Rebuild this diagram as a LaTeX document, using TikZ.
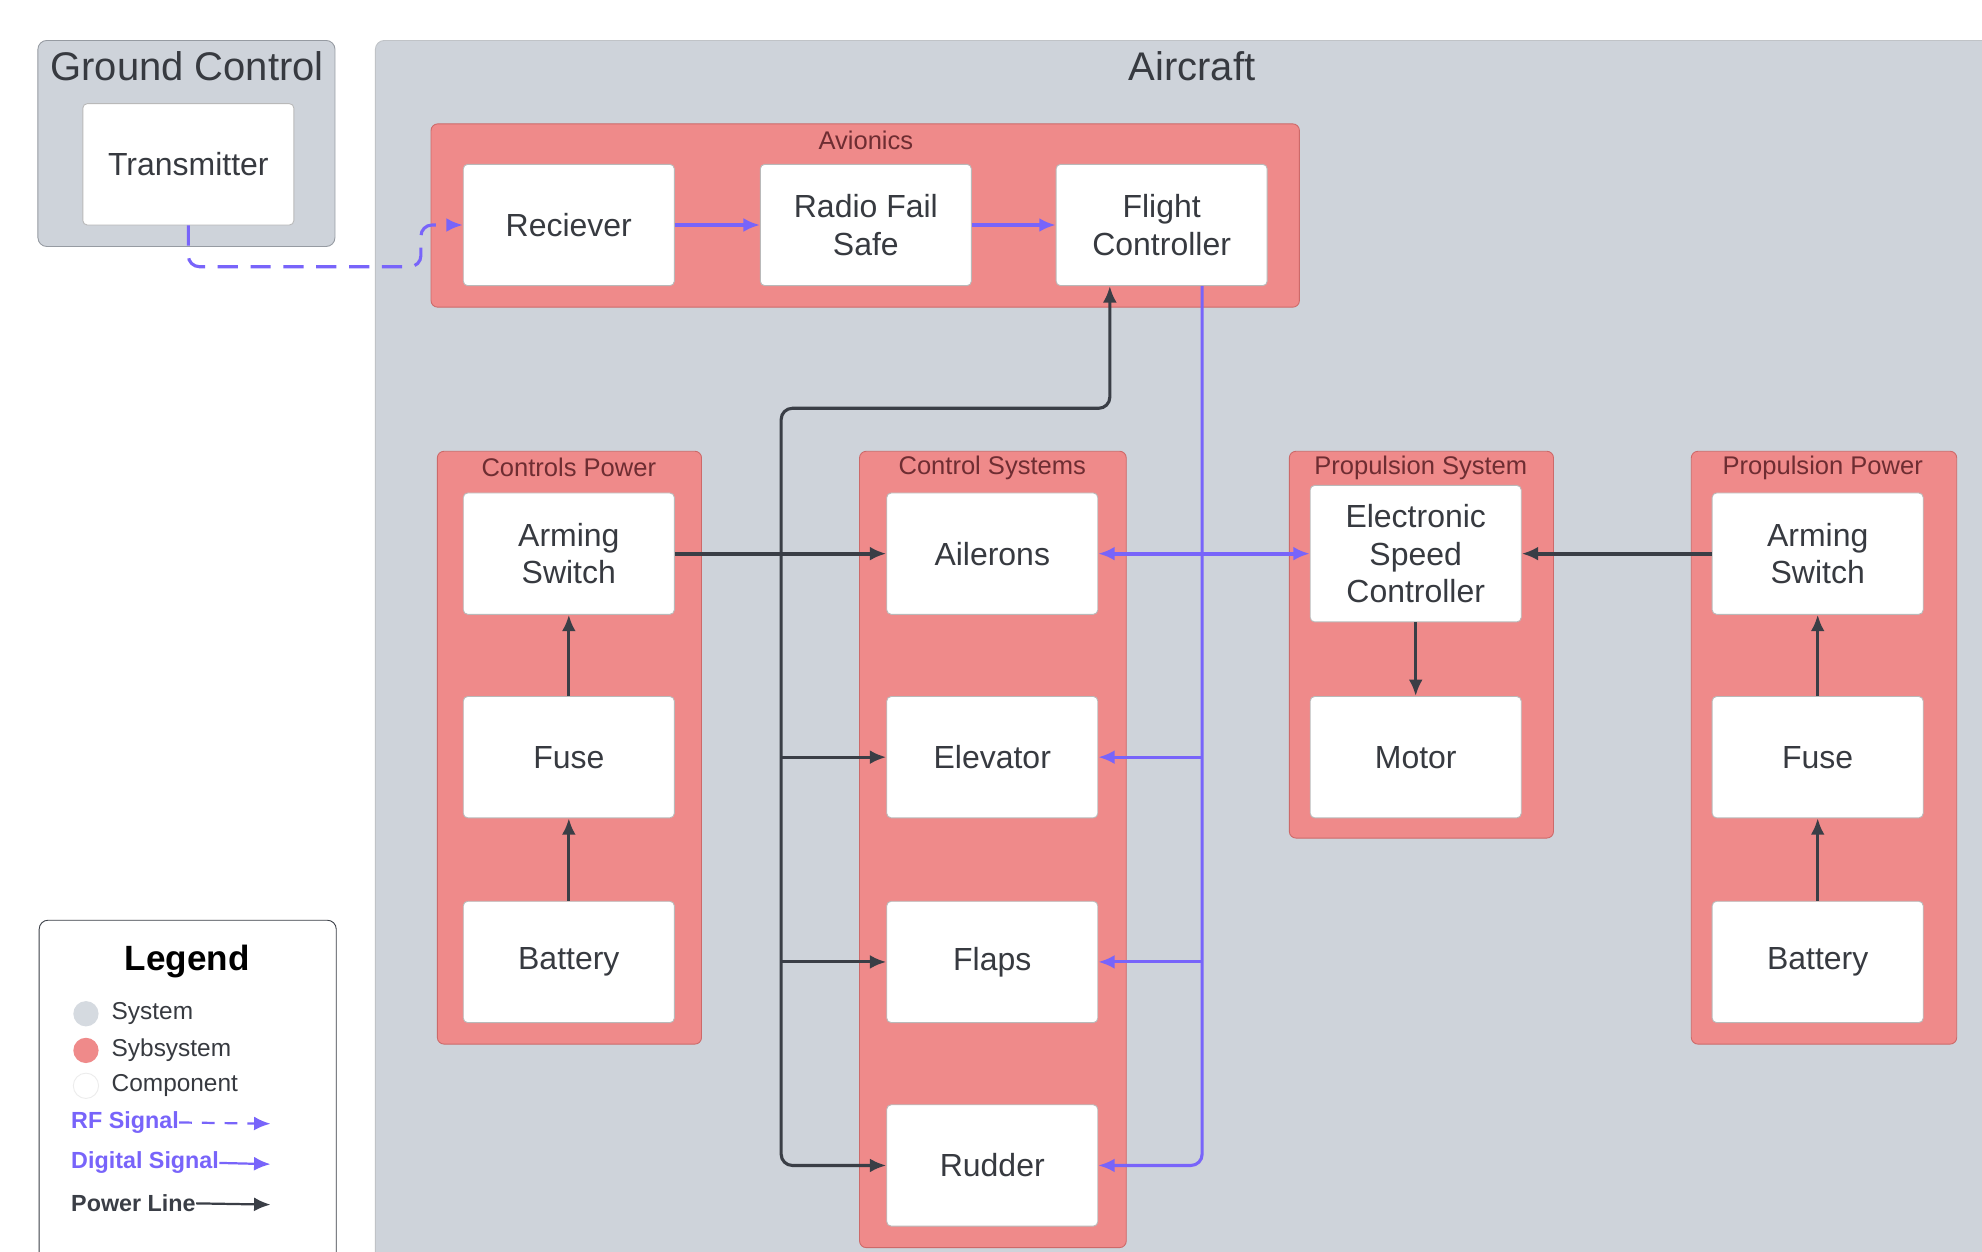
\documentclass[tikz,border=0pt]{standalone}
\usepackage{fontspec}
\setmainfont{Liberation Sans}
\usetikzlibrary{arrows.meta,fit,calc}
\definecolor{sysgray}{RGB}{206,211,218}
\definecolor{sysline}{RGB}{150,155,162}
\definecolor{subred}{RGB}{239,138,138}
\definecolor{subline}{RGB}{205,105,105}
\definecolor{subtext}{RGB}{110,45,50}
\definecolor{compline}{RGB}{185,185,185}
\definecolor{ink}{RGB}{55,58,64}
\definecolor{sigpurple}{RGB}{120,100,250}
\definecolor{powerc}{RGB}{58,62,70}
\tikzset{
  sys/.style={draw=sysline, fill=sysgray, rounded corners=4pt, inner sep=0pt},
  subsys/.style={draw=subline, fill=subred, rounded corners=3pt, inner sep=0pt},
  comp/.style={draw=compline, fill=white, rounded corners=2pt, minimum width=3.34cm, minimum height=1.92cm, align=center, text=ink, font=\fontsize{14.4}{17}\selectfont},
  systitle/.style={text=ink, font=\fontsize{18}{21}\selectfont},
  grplbl/.style={text=subtext, font=\fontsize{11.5}{13}\selectfont},
  power/.style={-{Latex[length=2.6mm,width=2.2mm]}, line width=1.4pt, draw=powerc},
  digital/.style={-{Latex[length=2.6mm,width=2.2mm]}, line width=1.4pt, draw=sigpurple},
  rf/.style={digital, dash pattern=on 3.2mm off 2mm},
  keydot/.style={circle, minimum size=0.4cm, inner sep=0pt},
  legitem/.style={anchor=west, inner sep=0pt, text=ink, font=\fontsize{11}{13}\selectfont},
  sigitem/.style={anchor=west, inner sep=0pt, font=\bfseries\fontsize{10.5}{12}\selectfont}
}

\begin{document}
\begin{tikzpicture}[x=0.02cm, y=-0.02cm]
  \useasboundingbox (0,0) rectangle (1568,990);
  \clip (0,0) rectangle (1568,990);
  \fill[white] (0,0) rectangle (1568,990);

  % ground side
  \node[sys, fit={(30,32) (265,195)}] (ground) {};
  \node[systitle] (groundlbl) at (148,52) {Ground Control};
  \node[comp] (tx) at (149,130) {Transmitter};

  % aircraft side
  \node[sys, draw=sysline!60, fit={(297,32) (1600,1020)}] (aircraft) {};
  \node[systitle] (aircraftlbl) at (943,52) {Aircraft};

  \node[subsys, fit={(341,98) (1028,243)}] (avionics) {};
  \node[grplbl] (avionicslbl) at (685,111) {Avionics};
  \node[comp] (rx) at (450,178) {Reciever};
  \node[comp] (rfs) at (685,178) {Radio Fail\\Safe};
  \node[comp] (fc) at (919,178) {Flight\\Controller};

  \node[subsys, fit={(346,357) (555,826)}] (ctrlpwr) {};
  \node[grplbl] (ctrlpwrlbl) at (450,370) {Controls Power};
  \node[comp] (armL) at (450,438) {Arming\\Switch};
  \node[comp] (fuseL) at (450,599) {Fuse};
  \node[comp] (batL) at (450,761) {Battery};

  \node[subsys, fit={(680,357) (891,987)}] (ctrlsys) {};
  \node[grplbl] (ctrlsyslbl) at (785,370) {Control Systems};
  \node[comp] (ail) at (785,438) {Ailerons};
  \node[comp] (elev) at (785,599) {Elevator};
  \node[comp] (flap) at (785,761) {Flaps};
  \node[comp] (rud) at (785,922) {Rudder};

  \node[subsys, fit={(1020,357) (1229,663)}] (propsys) {};
  \node[grplbl] (propsyslbl) at (1124,370) {Propulsion System};
  \node[comp, minimum height=2.16cm] (esc) at (1120,438) {Electronic\\Speed\\Controller};
  \node[comp] (motor) at (1120,599) {Motor};

  \node[subsys, fit={(1338,357) (1548,826)}] (proppwr) {};
  \node[grplbl] (proppwrlbl) at (1442,370) {Propulsion Power};
  \node[comp] (armR) at (1438,438) {Arming\\Switch};
  \node[comp] (fuseR) at (1438,599) {Fuse};
  \node[comp] (batR) at (1438,761) {Battery};

  % rf + digital
  \coordinate (rfturn) at (333,211);
  \draw[rf, rounded corners=5pt] (tx.south) |- (rfturn) |- (rx.west);
  \draw[digital] (rx) -- (rfs);
  \draw[digital] (rfs) -- (fc);
  \coordinate (digtop) at ($(fc.south)+(32,0)$);
  \draw[digital, rounded corners=5pt] (digtop) |- (rud.east);
  \foreach \n in {elev,flap} \draw[digital] (digtop |- \n.east) -- (\n.east);
  \draw[digital, line width=1.8pt, {Latex[length=2.6mm,width=2.2mm]}-{Latex[length=2.6mm,width=2.2mm]}] (ail.east) -- (esc.west);

  % power
  \draw[power] (batL) -- (fuseL);
  \draw[power] (fuseL) -- (armL);
  \draw[power, line width=1.8pt] (armL.east) -- (ail.west);
  \coordinate (busj) at (618,438);
  \coordinate (bustop) at (878,323);
  \draw[power, rounded corners=5pt] (busj) |- (bustop) -- (bustop |- fc.south);
  \draw[power, rounded corners=5pt] (busj) |- (rud.west);
  \foreach \n in {elev,flap} \draw[power] (busj |- \n.west) -- (\n.west);
  \draw[power] (batR) -- (fuseR);
  \draw[power] (fuseR) -- (armR);
  \draw[power, line width=1.8pt] (armR.west) -- (esc.east);
  \draw[power] (esc) -- (motor);

  % legend
  \node[sys, draw=powerc, fill=white, fit={(31,728) (266,1020)}] (legend) {};
  \node[font=\bfseries\fontsize{15.8}{18}\selectfont] (legendlbl) at (148,761) {Legend};
  \node[keydot, fill=sysgray!85] (dsys) at (68,802) {};
  \node[legitem] (lsys) at (88,802) {System};
  \node[keydot, fill=subred] (dsub) at (68,831) {};
  \node[legitem] (lsub) at (88,831) {Sybsystem};
  \node[keydot, fill=white, draw=gray!15] (dcomp) at (68,859) {};
  \node[legitem] (lcomp) at (88,859) {Component};
  \node[sigitem, text=sigpurple] (lrf) at (56,888) {RF Signal};
  \node[sigitem, text=sigpurple] (ldig) at (56,920) {Digital Signal};
  \node[sigitem, text=powerc] (lpow) at (56,952) {Power Line};
  \coordinate (erf) at (214,889);
  \coordinate (edig) at (214,921);
  \coordinate (epow) at (214,953);
  \draw[rf, line width=1pt, dash pattern=on 2mm off 1.6mm] (lrf.east) -- (erf);
  \draw[digital, line width=1pt] (ldig.east) -- (edig);
  \draw[power, line width=1pt] (lpow.east) -- (epow);
\end{tikzpicture}
\end{document}
